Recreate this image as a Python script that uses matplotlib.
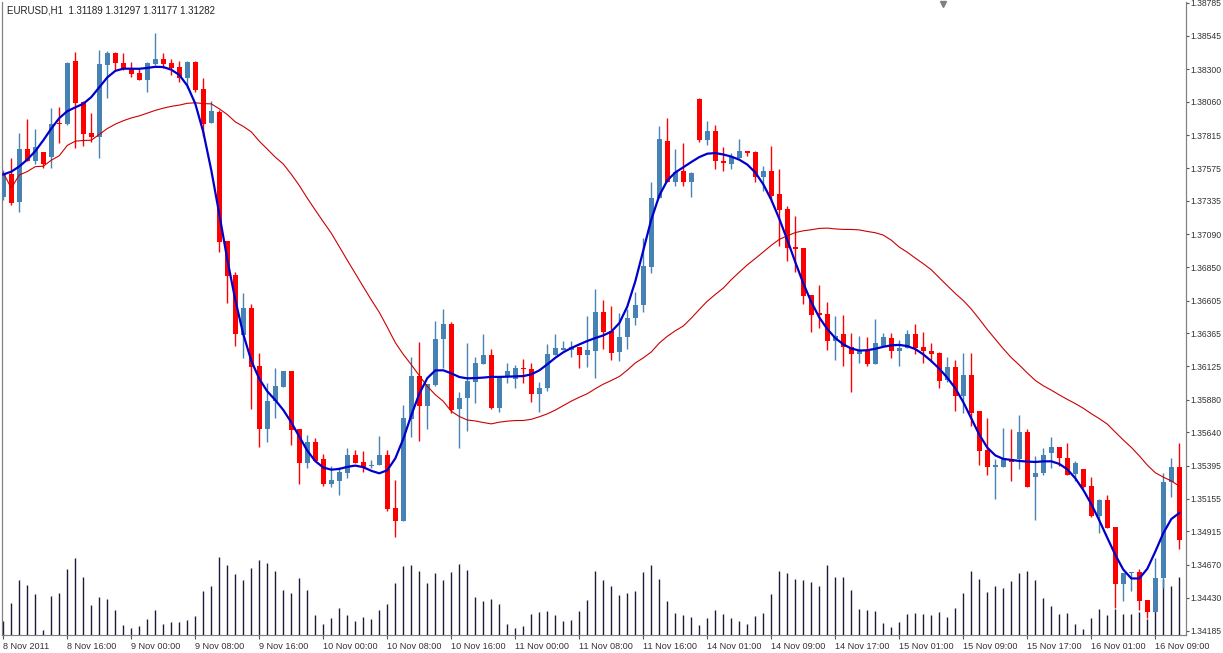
import matplotlib
matplotlib.use("Agg")
import matplotlib.pyplot as plt
import numpy as np
import pandas as pd

opens = [1.37364,1.37532,1.37327,1.37715,1.37627,1.37693,1.37657,1.37906,1.37898,1.3836,
1.3806,1.37832,1.37803,1.38331,1.38419,1.38346,1.38309,1.38272,1.38221,1.38338,
1.38375,1.38346,1.38316,1.38236,1.38353,1.38155,1.37906,1.37986,1.37041,1.36793,
1.36353,1.3655,1.36126,1.35665,1.3587,1.35972,1.36089,1.35665,1.35416,1.35569,
1.35445,1.35262,1.35284,1.35343,1.35474,1.35423,1.35394,1.35401,1.35474,1.35086,
1.34991,1.35738,1.36052,1.35833,1.35987,1.36323,1.36433,1.35811,1.35892,1.36008,
1.3614,1.36206,1.35818,1.36045,1.3603,1.36111,1.36104,1.35921,1.35965,1.36206,
1.36243,1.36243,1.36265,1.36206,1.36236,1.36521,1.36382,1.36228,1.36338,1.3648,
1.36573,1.36851,1.37357,1.37774,1.37474,1.37554,1.37474,1.38082,1.37781,1.37847,
1.37627,1.37605,1.37649,1.377,1.37693,1.37511,1.37554,1.37386,1.37276,1.36998,
1.3699,1.36646,1.36514,1.36507,1.36309,1.36361,1.36265,1.36214,1.36236,1.3614,
1.36272,1.36331,1.36236,1.36258,1.36361,1.36265,1.36236,1.36221,1.36023,1.36118,
1.35906,1.3606,1.35796,1.35511,1.35386,1.35386,1.35445,1.35445,1.35643,1.35313,
1.35343,1.35489,1.35533,1.35452,1.35335,1.35372,1.35247,1.35027,1.35144,1.34947,
1.34529,1.34609,1.34617,1.34412,1.34324,1.34573,1.35276,1.35386]
highs = [1.37561,1.37649,1.37832,1.37935,1.37862,1.37693,1.38015,1.38023,1.38353,1.38426,
1.38067,1.37979,1.38441,1.38434,1.38426,1.38419,1.38353,1.38309,1.38353,1.38565,
1.38419,1.38375,1.3836,1.3836,1.3836,1.38236,1.38067,1.38001,1.37041,1.36815,
1.3666,1.3658,1.36221,1.36001,1.36111,1.36089,1.36089,1.35665,1.35621,1.35599,
1.35481,1.35394,1.35386,1.35525,1.35511,1.35503,1.35437,1.35613,1.35511,1.35291,
1.35841,1.36192,1.36301,1.35994,1.36455,1.36543,1.36448,1.35936,1.36294,1.36192,
1.36361,1.3625,1.36045,1.36148,1.36133,1.36177,1.36148,1.36008,1.36287,1.36361,
1.36309,1.36309,1.36265,1.36492,1.3669,1.36609,1.36565,1.36514,1.36543,1.36668,
1.37063,1.37474,1.37884,1.37943,1.37715,1.37759,1.37547,1.38089,1.3792,1.37891,
1.3773,1.37686,1.37789,1.377,1.377,1.37591,1.37737,1.37569,1.37298,1.37225,
1.3699,1.36646,1.3672,1.36595,1.36492,1.36499,1.36368,1.36345,1.36338,1.3647,
1.36368,1.36368,1.36316,1.3639,1.36433,1.36375,1.36294,1.36228,1.36192,1.3617,
1.36221,1.36221,1.35796,1.35745,1.35445,1.35672,1.35665,1.35767,1.35665,1.35467,
1.35525,1.35606,1.35533,1.35562,1.3543,1.35372,1.35313,1.35152,1.35181,1.34947,
1.34609,1.34617,1.34639,1.34412,1.34719,1.35343,1.35452,1.35562]
lows = [1.37342,1.37305,1.37254,1.37627,1.37605,1.37576,1.37576,1.37759,1.37891,1.37722,
1.37737,1.37766,1.37649,1.38089,1.38294,1.38294,1.38243,1.38221,1.38133,1.38331,
1.38309,1.38257,1.38206,1.38162,1.38133,1.3781,1.37906,1.36961,1.36587,1.36272,
1.36184,1.35811,1.35533,1.35569,1.35745,1.35972,1.35548,1.35262,1.35379,1.3543,
1.35247,1.3524,1.35181,1.35306,1.35416,1.3535,1.35379,1.35401,1.35064,1.34873,
1.34991,1.35606,1.35577,1.35665,1.35979,1.36111,1.35782,1.35525,1.3565,1.35855,
1.3614,1.35811,1.35789,1.36001,1.35965,1.36001,1.35862,1.35789,1.35943,1.36206,
1.36243,1.36192,1.36111,1.36118,1.36038,1.3625,1.3617,1.36162,1.3625,1.36426,
1.36521,1.36807,1.37357,1.37474,1.37445,1.37445,1.37364,1.37766,1.37744,1.37569,
1.37554,1.37569,1.37649,1.37664,1.37474,1.37408,1.37327,1.37005,1.36895,1.36815,
1.3658,1.36375,1.36404,1.36243,1.3617,1.36126,1.35936,1.36148,1.36126,1.3614,
1.36272,1.36184,1.36126,1.36258,1.36214,1.36148,1.36155,1.35965,1.36008,1.35796,
1.35782,1.35687,1.35401,1.35328,1.35152,1.35386,1.35284,1.35372,1.3524,1.34998,
1.35328,1.35379,1.35394,1.35328,1.35284,1.35232,1.3502,1.34903,1.34939,1.34353,
1.34404,1.34478,1.34338,1.3428,1.34324,1.345,1.35166,1.34785]
closes = [1.3754,1.3732,1.37715,1.37627,1.3773,1.37605,1.37898,1.37898,1.38346,1.38052,
1.37825,1.37803,1.38338,1.38419,1.38346,1.38302,1.38265,1.38221,1.38346,1.38375,
1.38338,1.38309,1.38236,1.38353,1.38148,1.37898,1.37993,1.37034,1.36785,1.36361,
1.3655,1.36118,1.35665,1.3587,1.35979,1.36089,1.35657,1.35416,1.35569,1.3543,
1.35262,1.35291,1.3535,1.35474,1.35416,1.35386,1.35401,1.35474,1.35078,1.34991,
1.35745,1.36052,1.35833,1.35994,1.36323,1.36433,1.35804,1.35892,1.36016,1.36148,
1.36206,1.35818,1.36045,1.36089,1.36111,1.36104,1.35921,1.35965,1.36214,1.36258,
1.36258,1.36265,1.36206,1.36243,1.36521,1.36375,1.36221,1.36338,1.3648,1.36573,
1.36858,1.37357,1.37789,1.37474,1.37547,1.37474,1.3754,1.37781,1.37847,1.37627,
1.37613,1.37657,1.377,1.37686,1.37511,1.37554,1.37372,1.37269,1.3699,1.36983,
1.36639,1.36499,1.36499,1.36309,1.36345,1.36265,1.36214,1.36236,1.3614,1.36294,
1.36338,1.36236,1.36258,1.36361,1.36258,1.36236,1.36214,1.36016,1.36118,1.35906,
1.3606,1.35782,1.35503,1.35386,1.35401,1.35445,1.35423,1.35643,1.3524,1.35343,
1.35474,1.35533,1.35452,1.35328,1.35416,1.3524,1.35027,1.35144,1.34939,1.34529,
1.34609,1.34617,1.34404,1.34324,1.34573,1.35276,1.35386,1.34851]
volumes = [42,97,165,150,123,15,117,126,198,231,174,90,114,108,75,30,21,27,48,75,
33,39,39,45,57,132,147,234,210,183,165,201,225,216,192,135,126,171,135,60,
33,51,81,60,42,54,48,75,93,156,207,210,192,156,186,165,189,213,195,114,
102,108,93,32,21,27,63,69,72,60,42,45,72,105,192,165,147,120,126,132,
189,210,168,102,66,60,54,30,51,75,63,51,42,33,57,66,123,192,186,168,
165,159,147,210,174,174,135,78,75,72,36,24,39,63,66,63,60,69,54,81,
126,192,168,129,147,141,162,186,192,165,111,87,63,66,33,18,51,78,60,78,
63,63,69,48,78,168,147,174]
time_labels = ["8 Nov 2011","8 Nov 16:00","9 Nov 00:00","9 Nov 08:00","9 Nov 16:00",
"10 Nov 00:00","10 Nov 08:00","10 Nov 16:00","11 Nov 00:00","11 Nov 08:00","11 Nov 16:00",
"14 Nov 01:00","14 Nov 09:00","14 Nov 17:00","15 Nov 01:00","15 Nov 09:00","15 Nov 17:00",
"16 Nov 01:00","16 Nov 09:00"]
price_ticks = [1.34185,1.34430,1.34670,1.34915,1.35155,1.35395,1.35640,1.35880,1.36125,
1.36365,1.36605,1.36850,1.37090,1.37335,1.37575,1.37815,1.38060,1.38300,1.38545,1.38785]

FONT = "Liberation Sans"
W, H = 1223, 653
fig = plt.figure(figsize=(W/100, H/100), dpi=100, facecolor="white")
L, R, T, B = 2, 1186, 2, 635
ax = fig.add_axes([L/W, 1-B/H, (R-L)/W, (B-T)/H])
ax2 = ax.twinx()
ax2.set_zorder(0); ax.set_zorder(1); ax.patch.set_visible(False)
ax2.patch.set_facecolor("white")

n = len(closes)
x = np.arange(n)
o = np.array(opens); c = np.array(closes); hi = np.array(highs); lo = np.array(lows)
up = c >= o
col = np.where(up, "#4682B4", "#FF0000")

ax.vlines(x, lo, hi, colors=col, linewidth=1.0, zorder=2)
bot = np.minimum(o, c); ht = np.maximum(np.abs(c - o), 0.00004)
ax.bar(x, ht, bottom=bot, width=0.62, color=col, linewidth=0, zorder=3)

cs = pd.Series(closes)
fast = cs.rolling(7, center=True, win_type="triang", min_periods=1).mean()
fast = fast.rolling(3, center=True, min_periods=1).mean()
sma = cs.rolling(30, min_periods=1).mean()
ax.plot(x, sma, color="#CC0000", lw=0.8, zorder=4)
ax.plot(x, fast, color="#0000CD", lw=1.6, zorder=5)

ax2.vlines(x, 0, volumes, colors="#1a1a3a", linewidth=1.0)
ax2.set_ylim(0, 633 * 3)
ax2.set_yticks([])

per_px = (1.38785 - 1.34185) / 628
ax.set_ylim(1.34185 - 4 * per_px, 1.38785 + 1 * per_px)
ax.set_xlim(-0.1625, -0.1625 + (R - L) / 8)

ax.yaxis.tick_right()
ax.set_yticks(price_ticks)
ax.set_yticklabels([f"{p:.5f}" for p in price_ticks], fontfamily=FONT)
ax.set_xticks(x[::8][:len(time_labels)])
ax.set_xticklabels(time_labels, ha="left", fontfamily=FONT)
ax.tick_params(axis="both", labelsize=6.6, colors="#555555", length=3, width=0.8, pad=2)
ax.tick_params(axis="y", labelsize=6.2, length=2, pad=1.5)
ax.tick_params(axis="both", labelcolor="#333333")
ax.spines["top"].set_visible(False); ax2.spines["top"].set_visible(False)
for a in (ax, ax2):
    for s in ["left", "right", "bottom"]:
        a.spines[s].set_color("#808080")
ax.text(0.004, 0.995, "EURUSD,H1  1.31189 1.31297 1.31177 1.31282", transform=ax.transAxes,
        fontsize=7, fontfamily=FONT, va="top", ha="left", color="#222222")
ax.plot([0.7945], [0.997], marker="v", color="#808080", markersize=5, transform=ax.transAxes, clip_on=False)

fig.savefig("out.png", dpi=100, facecolor="white")
